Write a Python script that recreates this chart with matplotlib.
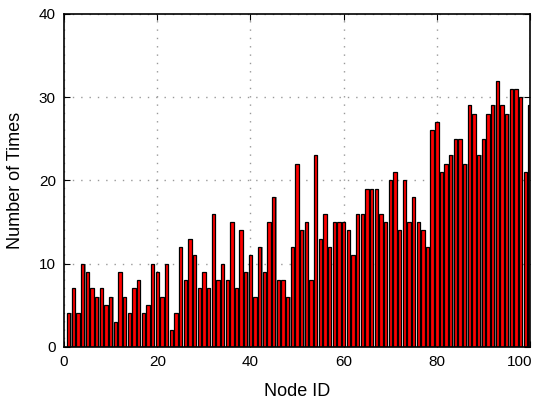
import matplotlib
matplotlib.use("Agg")
import matplotlib.pyplot as plt
import matplotlib.transforms as mtransforms
import numpy as np

plt.rcParams['font.family'] = ['Liberation Sans', 'DejaVu Sans']

node_ids = list(range(1, 101))
counts = [
    4, 7, 4, 10, 9, 7, 6, 7, 5, 6, 3, 9, 6, 4, 7, 8, 4, 5, 10, 9,
    6, 10, 2, 4, 12, 8, 13, 11, 7, 9, 7, 16, 8, 10, 8, 15, 7, 14, 9, 11,
    6, 12, 9, 15, 18, 8, 8, 6, 12, 22, 14, 15, 8, 23, 13, 16, 12, 15, 15, 15,
    14, 11, 16, 16, 19, 19, 19, 16, 15, 20, 21, 14, 20, 15, 18, 15, 14, 12, 26, 27,
    21, 22, 23, 25, 25, 22, 29, 28, 23, 25, 28, 29, 32, 29, 28, 31, 31, 30, 21, 29,
]
x_ticks = [0, 20, 40, 60, 80, 100]
y_ticks = [0, 10, 20, 30, 40]

fig = plt.figure(figsize=(5.33, 4.01), dpi=100)
ax = fig.add_axes([0.1203, 0.1354, 0.8741, 0.8297])

x = np.array(node_ids, dtype=float)
y = np.array(counts, dtype=float)
w = 0.72
# shadow
ax.bar(x + 0.24, y, width=w, color='#8c8c8c', edgecolor='none', zorder=2)
# main bars
ax.bar(x, y, width=w, color='#ff0000', edgecolor='black', linewidth=0.9, zorder=3)

ax.set_xlim(0, 100)
ax.set_ylim(0, 40)
ax.set_xticks(x_ticks)
ax.set_yticks(y_ticks)
ax.tick_params(direction='in', length=4, width=0.8, top=True, right=True,
               labelsize=11, pad=6)
ax.grid(True, color='#999999', linestyle=(0, (1, 5)), linewidth=1.0, zorder=0)
ax.set_axisbelow(True)
for s in ax.spines.values():
    s.set_linewidth(1.2)
    s.set_zorder(5)

# keep last x tick label inside canvas (as in reference)
fig.canvas.draw()
last = ax.get_xticklabels()[-1]
last.set_transform(last.get_transform() +
                   mtransforms.ScaledTranslation(-10 / 100, 0, fig.dpi_scale_trans))

ax.set_xlabel('Node ID', fontsize=13)
ax.set_ylabel('Number of Times', fontsize=13)
ax.xaxis.set_label_coords(0.5, -0.108)
ax.yaxis.set_label_coords(-0.086, 0.5)

fig.savefig('out.png', dpi=100)
